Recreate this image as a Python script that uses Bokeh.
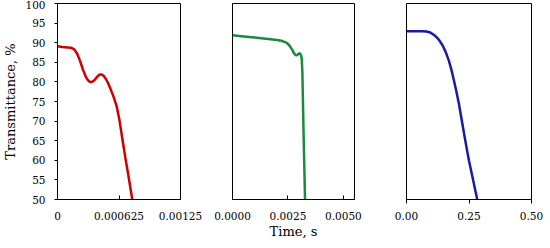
from bokeh.plotting import figure
from bokeh.layouts import row
from bokeh.models import Range1d, FixedTicker
from bokeh.embed import file_html
from bokeh.resources import INLINE

# ---- data ----
red_t = [0, 0.00005, 0.0001, 0.00014, 0.00017, 0.0002, 0.00023, 0.00026, 0.00029,
         0.00031, 0.00033, 0.00035, 0.00037, 0.00039, 0.00041, 0.00043, 0.00045,
         0.00047, 0.00049, 0.00051, 0.00054, 0.00057, 0.0006, 0.00063, 0.00066,
         0.00069, 0.00072, 0.00076]
red_T = [89.1, 88.9, 88.8, 88.7, 88.3, 87.2, 85.3, 83.0, 81.2,
         80.4, 80.0, 80.0, 80.3, 80.9, 81.5, 81.9, 81.9,
         81.5, 80.8, 79.9, 78.1, 76.2, 73.9, 70.2, 65.3,
         60.6, 56.2, 50.0]

green_t = [0, 0.0005, 0.001, 0.0015, 0.002, 0.0022, 0.0024, 0.0025, 0.0026, 0.0027,
           0.00278, 0.00285, 0.0029, 0.00295, 0.003, 0.00305, 0.00309, 0.00312,
           0.00315, 0.0032, 0.00327]
green_T = [91.9, 91.6, 91.3, 91.0, 90.7, 90.5, 90.1, 89.7, 89.0, 88.1,
           87.2, 86.8, 86.8, 87.0, 87.3, 87.2, 86.8, 86.0,
           82.5, 68.0, 50.0]

blue_t = [0, 0.03, 0.06, 0.08, 0.095, 0.105, 0.117, 0.13, 0.1435, 0.157, 0.17, 0.18,
          0.19, 0.2, 0.21, 0.22, 0.23, 0.24, 0.25, 0.26, 0.27, 0.283]
blue_T = [92.9, 92.9, 92.9, 92.85, 92.6, 92.2, 91.6, 90.7, 89.4, 87.6, 85.3, 83.0,
          80.3, 77.4, 74.3, 70.6, 66.9, 63.3, 59.9, 56.9, 53.9, 50.0]

x1_ticks = [0, 0.000625, 0.00125]
x1_labels = ["0", "0.000625", "0.00125"]
x2_ticks = [0, 0.0025, 0.005]
x2_labels = ["0.0000", "0.0025", "0.0050"]
x3_ticks = [0, 0.25, 0.5]
x3_labels = ["0.00", "0.25", "0.50"]
y_ticks = [50, 55, 60, 65, 70, 75, 80, 85, 90, 95, 100]

FONT = "DejaVu Serif"


def make(xr, frame_w, left, right, ticks, labels, tick_in, tick_out, standoff):
    p = figure(frame_width=frame_w, frame_height=196, x_range=xr, y_range=Range1d(50, 100),
               output_backend="svg", toolbar_location=None,
               min_border_left=left, min_border_right=right, min_border_top=3,
               min_border_bottom=41)
    p.xgrid.visible = False
    p.ygrid.visible = False
    p.outline_line_color = "black"
    p.outline_line_alpha = 1
    p.outline_line_width = 1
    p.background_fill_color = "white"
    p.border_fill_color = "white"
    ax = p.xaxis[0]
    ax.ticker = FixedTicker(ticks=ticks)
    ax.major_label_overrides = {t: l for t, l in zip(ticks, labels)}
    ax.major_tick_in = tick_in
    ax.major_tick_out = tick_out
    ax.minor_tick_line_color = None
    ax.major_label_standoff = standoff
    ax.major_label_text_font = FONT
    ax.major_label_text_font_size = "10.5px"
    ax.major_label_text_color = "black"
    ax.axis_label_text_color = "black"
    ax.axis_line_color = "black"
    ax.major_tick_line_color = "black"
    return p


p1 = make(Range1d(0, 0.00125), 123, 51, 26, x1_ticks, x1_labels, 4, 0, 12)
p1.line(red_t, red_T, line_color="#cc0000", line_width=2.5)
ya = p1.yaxis[0]
ya.ticker = FixedTicker(ticks=y_ticks)
ya.major_tick_in = 0
ya.major_tick_out = 3
ya.minor_tick_line_color = None
ya.major_tick_line_color = "black"
ya.axis_line_color = "black"
ya.major_label_standoff = 9
ya.major_label_text_font = FONT
ya.major_label_text_font_size = "10.5px"
ya.major_label_text_color = "black"
ya.axis_label = "Transmittance, %"
ya.axis_label_text_font = FONT
ya.axis_label_text_font_size = "13px"
ya.axis_label_text_font_style = "normal"
ya.axis_label_text_color = "black"
ya.axis_label_standoff = 4

p2 = make(Range1d(0, 0.0055), 122, 26, 26, x2_ticks, x2_labels, 4, 0, 12)
p2.line(green_t, green_T, line_color="#1a8a3e", line_width=2.5)
p2.yaxis.visible = False
xa = p2.xaxis[0]
xa.axis_label = "Time, s"
xa.axis_label_text_font = FONT
xa.axis_label_text_font_size = "13px"
xa.axis_label_text_font_style = "normal"
xa.axis_label_standoff = 1

p3 = make(Range1d(0, 0.5), 125, 26, 12, x3_ticks, x3_labels, 0, 4, 8)
p3.line(blue_t, blue_T, line_color="#1a1aa4", line_width=2.5)
p3.yaxis.visible = False

layout = row(p1, p2, p3)
open("out.html", "w").write(file_html(layout, INLINE))
